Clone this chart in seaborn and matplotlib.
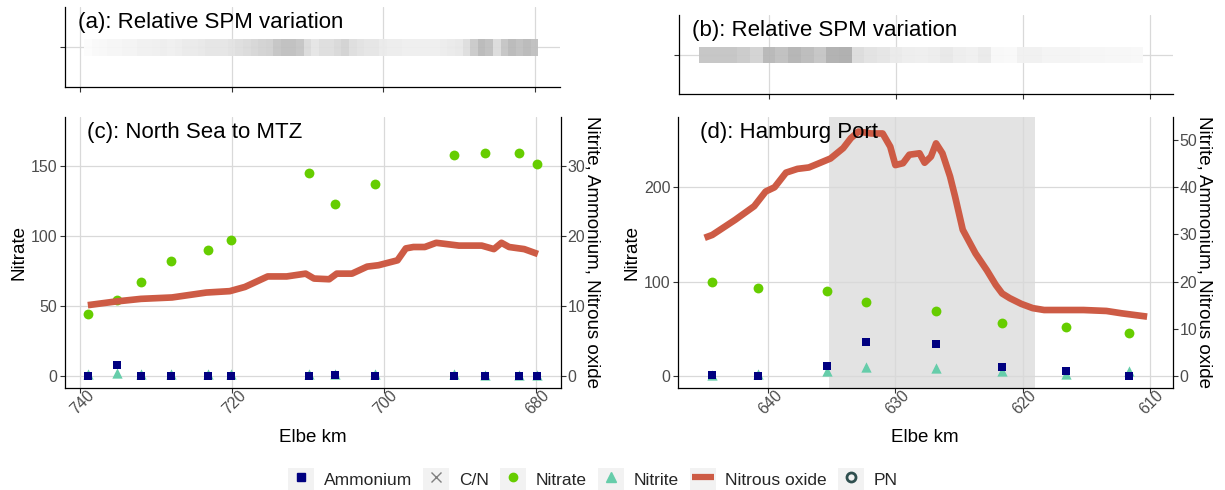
import numpy as np
import pandas as pd
import matplotlib
matplotlib.use("Agg")
import matplotlib.pyplot as plt
import seaborn as sns
from matplotlib.patches import Patch
from matplotlib.lines import Line2D
from matplotlib.colors import LinearSegmentedColormap
from matplotlib.transforms import ScaledTranslation

# ---------------- data ----------------
# (a) relative SPM variation, North Sea to MTZ
spm_a_km = [739, 738, 737, 736, 735, 734, 733, 732, 731, 730, 729, 728, 727, 726, 725,
            724, 723, 722, 721, 720, 719, 718, 717, 716, 715, 714, 713, 712, 711, 710,
            709, 708, 707, 706, 705, 704, 703, 702, 701, 700, 699, 698, 697, 696, 695,
            694, 693, 692, 691, 690, 689, 688, 687, 686, 685, 684, 683, 682, 681, 680]
spm_a_val = [0.03, 0.05, 0.06, 0.08, 0.08, 0.10, 0.10, 0.12, 0.12, 0.13, 0.15, 0.13, 0.15, 0.18, 0.18,
             0.20, 0.22, 0.22, 0.22, 0.25, 0.28, 0.32, 0.35, 0.38, 0.40, 0.50, 0.55, 0.55, 0.50, 0.32,
             0.22, 0.28, 0.28, 0.33, 0.38, 0.28, 0.25, 0.22, 0.22, 0.18, 0.16, 0.16, 0.14, 0.14, 0.14,
             0.14, 0.14, 0.16, 0.18, 0.20, 0.28, 0.45, 0.60, 0.55, 0.30, 0.50, 0.60, 0.55, 0.60, 0.55]

# (b) relative SPM variation, Hamburg Port
spm_b_km = [645, 644, 643, 642, 641, 640, 639, 638, 637, 636, 635, 634, 633, 632, 631,
            630, 629, 628, 627, 626, 625, 624, 623, 622, 621, 620, 619, 618, 617, 616,
            615, 614, 613, 612, 611]
spm_b_val = [0.50, 0.50, 0.50, 0.45, 0.38, 0.62, 0.55, 0.65, 0.58, 0.50, 0.68, 0.70, 0.30, 0.25, 0.22,
             0.18, 0.15, 0.14, 0.16, 0.20, 0.15, 0.13, 0.18, 0.06, 0.05, 0.12, 0.12, 0.10, 0.10, 0.10,
             0.08, 0.08, 0.07, 0.07, 0.06]

# (c) North Sea to MTZ: discrete samples
c_km = [739.0, 735.1, 732.0, 728.0, 723.2, 720.2, 709.8, 706.4, 701.2, 690.8, 686.7, 682.2, 679.8]
c_nitrate = [44, 54, 67, 82, 90, 97, 145, 123, 137, 158, 159, 159, 151]
c_ammonium = [0, 1.5, 0, 0, 0, 0, 0, 0.2, 0, 0, 0, 0, 0]
c_nitrite = [0.3, 0.4, 0.3, 0.3, 0.3, 0.3, 0.3, 0.3, 0.3, 0.3, 0.2, 0.2, 0.2]
# (c) continuous nitrous oxide
c_n2o_km = [739.0, 735.5, 732.0, 727.9, 723.4, 720.3, 718.3, 715.3, 712.8, 710.3, 709.2, 707.2,
            706.2, 704.2, 702.2, 700.7, 698.2, 697.1, 696.1, 694.6, 693.1, 691.6, 690.1, 687.1,
            685.5, 684.5, 683.5, 681.5, 679.7]
c_n2o = [10.1, 10.6, 11.0, 11.2, 11.9, 12.1, 12.7, 14.2, 14.2, 14.6, 13.9, 13.8,
         14.6, 14.6, 15.6, 15.8, 16.5, 18.2, 18.4, 18.4, 19.0, 18.8, 18.6, 18.6,
         18.1, 19.0, 18.4, 18.1, 17.4]

# (d) Hamburg Port: discrete samples
d_km = [644.4, 640.8, 635.4, 632.3, 626.8, 621.6, 616.6, 611.6]
d_nitrate = [99.6, 93.6, 90.5, 78.1, 68.6, 56.2, 51.9, 45.9]
d_ammonium = [0.2, 0.0, 2.2, 7.3, 6.9, 2.0, 1.0, 0.0]
d_nitrite = [0.3, 0.5, 1.1, 2.0, 1.8, 1.1, 0.5, 1.1]
# (d) continuous nitrous oxide
d_n2o_km = [645.0, 644.4, 642.6, 641.1, 640.2, 639.5, 638.6, 637.7, 636.8, 635.9, 635.1, 634.1,
            633.5, 632.9, 631.9, 631.0, 630.4, 630.0, 629.4, 628.9, 628.1, 627.7, 627.2, 626.8,
            626.3, 625.7, 625.3, 624.7, 623.7, 622.8, 622.1, 621.6, 621.0, 620.1, 619.2, 618.3,
            616.7, 615.2, 613.4, 612.2, 610.2]
d_n2o = [29.3, 29.9, 33.1, 36.0, 39.1, 40.0, 43.1, 43.9, 44.2, 45.2, 46.1, 48.3,
         50.4, 51.8, 51.4, 51.4, 48.6, 44.7, 45.1, 46.9, 47.2, 45.2, 46.5, 49.3,
         47.2, 42.3, 38.0, 31.0, 26.0, 22.4, 19.3, 17.5, 16.5, 15.3, 14.4, 14.0,
         14.0, 14.0, 13.8, 13.3, 12.6]
# Hamburg port section (shaded)
d_port_span = [635.2, 619.0]

# tick labels
c_xticks = [740, 720, 700, 680]
d_xticks = [640, 630, 620, 610]
c_yticks = [0, 50, 100, 150]
c_y2ticks = [0, 10, 20, 30]
d_yticks = [0, 100, 200]
d_y2ticks = [0, 10, 20, 30, 40, 50]

legend_labels = ["Ammonium", "C/N", "Nitrate", "Nitrite", "Nitrous oxide", "PN"]

# ---------------- style ----------------
COL_AMM = "#000080"
COL_CN = "#7f7f7f"
COL_NIT = "#66CD00"
COL_NO2 = "#66CDAA"
COL_N2O = "#CD5B45"
COL_PN = "#2F4F4F"
SEC = 5.0  # secondary-axis factor (Nitrate = 5 x secondary)

sns.set_theme(style="white")
plt.rcParams["font.family"] = ["Liberation Sans", "DejaVu Sans"]
plt.rcParams["axes.linewidth"] = 0.9

fig = plt.figure(figsize=(12.25, 4.9), dpi=100)
ax_a = fig.add_axes([0.0531, 0.8218, 0.4037, 0.1645])
ax_b = fig.add_axes([0.5543, 0.8076, 0.4029, 0.1618])
ax_c = fig.add_axes([0.0531, 0.2076, 0.4046, 0.5543])
ax_d = fig.add_axes([0.5534, 0.2076, 0.4038, 0.5543])

c_xlim = (742.0, 676.7)
d_xlim = (647.1, 608.2)
c_ylim = (-8.8, 185.0)
d_ylim = (-12.9, 274.8)

spm_cmap = LinearSegmentedColormap.from_list("spm", ["#ffffff", "#8a8a8a"])
GRID = "#d9d9d9"


def style_common(ax):
    ax.set_axisbelow(True)
    ax.grid(True, color=GRID, lw=0.9)
    ax.spines["top"].set_visible(False)
    ax.spines["right"].set_visible(False)
    for s in ["left", "bottom"]:
        ax.spines[s].set_color("black")
        ax.spines[s].set_linewidth(0.9)
    ax.tick_params(axis="both", which="major", length=3.5, width=0.8, color="#333333",
                   labelcolor="#4d4d4d", labelsize=11.5, bottom=True, left=True)


def strip_panel(ax, km, vals, xlim, xticks, title):
    style_common(ax)
    km = np.asarray(km, float)
    vals = np.asarray(vals, float)
    edges = np.concatenate([km + 0.5, [km[-1] - 0.5]])
    y = np.array([0.39, 0.60])
    ax.pcolormesh(edges, y, vals[np.newaxis, :], cmap=spm_cmap, vmin=0, vmax=1,
                  shading="flat", zorder=1, alpha=0.95, linewidth=0, antialiased=False)
    ax.set_xlim(*xlim)
    ax.set_ylim(0, 1)
    ax.set_xticks(xticks)
    ax.set_xticklabels([""] * len(xticks))
    ax.set_yticks([0.495])
    ax.set_yticklabels([""])
    ax.text(0.027, 0.80, title, transform=ax.transAxes, fontsize=16, color="black",
            ha="left", va="center", zorder=5)


def main_panel(ax, xlim, ylim, xticks, yticks, y2ticks, km, nitrate, ammonium, nitrite,
               n2o_km, n2o, title, span=None):
    style_common(ax)
    ax.set_xlim(*xlim)
    ax.set_ylim(*ylim)
    if span is not None:
        ax.axvspan(span[0], span[1], color="#e3e3e3", lw=0, zorder=0.2)
    df = pd.DataFrame({"km": km, "Nitrate": nitrate, "Ammonium": ammonium, "Nitrite": nitrite})
    dl = pd.DataFrame({"km": n2o_km, "N2O": n2o})
    sns.scatterplot(data=df, x="km", y="Nitrate", ax=ax, color=COL_NIT, marker="o", s=50,
                    linewidth=0, legend=False, zorder=3)
    ax2 = ax.twinx()
    ax2.set_ylim(ylim[0] / SEC, ylim[1] / SEC)
    sns.scatterplot(data=df, x="km", y="Nitrite", ax=ax2, color=COL_NO2, marker="^", s=55,
                    linewidth=0, legend=False, zorder=3)
    sns.scatterplot(data=df, x="km", y="Ammonium", ax=ax2, color=COL_AMM, marker="s", s=40,
                    linewidth=0, legend=False, zorder=4)
    sns.lineplot(data=dl, x="km", y="N2O", ax=ax2, color=COL_N2O, lw=4.8, sort=False,
                 legend=False, zorder=5, solid_capstyle="butt", solid_joinstyle="round")
    ax2.set_xlim(*xlim)
    ax.set_xticks(xticks)
    ax.set_xticklabels([str(t) for t in xticks])
    ax.set_yticks(yticks)
    ax.set_yticklabels([str(t) for t in yticks])
    ax2.set_yticks(y2ticks)
    ax2.set_yticklabels([str(t) for t in y2ticks])
    ax2.grid(False)
    for s in ["top", "left", "bottom"]:
        ax2.spines[s].set_visible(False)
    ax2.spines["right"].set_visible(True)
    ax2.spines["right"].set_color("black")
    ax2.spines["right"].set_linewidth(0.9)
    ax2.tick_params(axis="y", length=3.5, width=0.8, color="#333333", labelcolor="#4d4d4d",
                    labelsize=11.5, pad=1.5, right=True)
    ax.tick_params(axis="y", pad=2)
    ax.tick_params(axis="x", pad=7.0)
    shift = ScaledTranslation(2 / 100, 0, fig.dpi_scale_trans)
    for lab in ax.get_xticklabels():
        lab.set_rotation(45)
        lab.set_ha("center")
        lab.set_va("center")
        lab.set_rotation_mode("anchor")
        lab.set_transform(lab.get_transform() + shift)
    ax.set_xlabel("Elbe km", fontsize=13.5, color="black")
    ax.xaxis.set_label_coords(0.5, -0.183)
    ax.xaxis.label.set_va("center")
    ax.set_ylabel("Nitrate", fontsize=13.5, color="black")
    ax.yaxis.set_label_coords(-0.092, 0.5)
    ax.yaxis.label.set_va("center")
    ax2.set_ylabel("Nitrite, Ammonium, Nitrous oxide", fontsize=13.5, color="black",
                   rotation=-90, va="center")
    ax2.yaxis.set_label_coords(1.064, 0.5)
    ax2.text(0.045, 0.94, title, transform=ax.transAxes, fontsize=16, color="black",
             ha="left", va="center", zorder=10)
    return ax2


strip_panel(ax_a, spm_a_km, spm_a_val, c_xlim, c_xticks, "(a): Relative SPM variation")
strip_panel(ax_b, spm_b_km, spm_b_val, d_xlim, d_xticks, "(b): Relative SPM variation")

main_panel(ax_c, c_xlim, c_ylim, c_xticks, c_yticks, c_y2ticks, c_km, c_nitrate, c_ammonium,
           c_nitrite, c_n2o_km, c_n2o, "(c): North Sea to MTZ")
main_panel(ax_d, d_xlim, d_ylim, d_xticks, d_yticks, d_y2ticks, d_km, d_nitrate, d_ammonium,
           d_nitrite, d_n2o_km, d_n2o, "(d): Hamburg Port", span=d_port_span)

# ---------------- legend ----------------
KEYBG = "#f2f2f2"
key = lambda: Patch(facecolor=KEYBG, edgecolor="none")
handles = [
    (key(), Line2D([], [], ls="none", marker="s", color=COL_AMM, markersize=6)),
    (key(), Line2D([], [], ls="none", marker="x", color=COL_CN, markersize=7, mew=1.0)),
    (key(), Line2D([], [], ls="none", marker="o", color=COL_NIT, markersize=6)),
    (key(), Line2D([], [], ls="none", marker="^", color=COL_NO2, markersize=7)),
    (key(), Line2D([], [], ls="none", marker="_", color=COL_N2O, markersize=16, mew=4.5)),
    (key(), Line2D([], [], ls="none", marker="o", markerfacecolor="none",
                   markeredgecolor=COL_PN, markersize=6.5, mew=2.0)),
]
fig.legend(handles, legend_labels, loc="center", bbox_to_anchor=(0.484, 0.022), ncol=6,
           frameon=False, fontsize=12.5, handlelength=1.5, handleheight=1.55,
           handletextpad=0.55, columnspacing=0.65, borderaxespad=0)

fig.savefig("out.png", dpi=100)
